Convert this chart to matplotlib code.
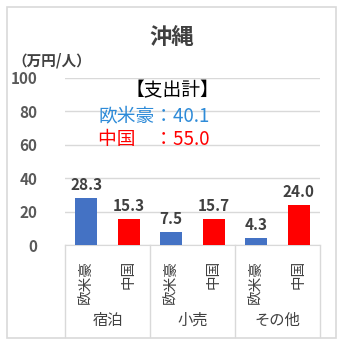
import matplotlib.pyplot as plt
from matplotlib.patches import Rectangle

plt.rcParams['font.family'] = ['Noto Sans CJK JP', 'DejaVu Sans']

groups = ['宿泊', '小売', 'その他']
markets = ['欧米豪', '中国']
values_west = [28.3, 7.5, 4.3]
values_china = [15.3, 15.7, 24.0]
totals = {'欧米豪': 40.1, '中国': 55.0}
yticks = [0, 20, 40, 60, 80, 100]

W, H = 344, 345
fig = plt.figure(figsize=(W / 100, H / 100), dpi=100)
ax = fig.add_axes([65 / W, 1 - 245 / H, 255 / W, 167 / H])

blue = '#4472C4'
red = '#FF0000'
txt = '#404040'

xs_w = [2 * i + 0.5 for i in range(len(groups))]
xs_c = [2 * i + 1.5 for i in range(len(groups))]
ax.bar(xs_w, values_west, width=0.52, color=blue, zorder=3)
ax.bar(xs_c, values_china, width=0.52, color=red, zorder=3)

for x, v in list(zip(xs_w, values_west)) + list(zip(xs_c, values_china)):
    ax.text(x, v + 3, f'{v:.1f}', ha='center', va='bottom', fontsize=11,
            fontweight='bold', color=txt)

ax.set_xlim(0, 2 * len(groups))
ax.set_ylim(0, 100)
ax.set_yticks(yticks)
ax.set_yticklabels([str(t) for t in yticks], fontsize=11, fontweight='bold',
                   color='#595959')
ax.tick_params(axis='y', length=0, pad=20)
ax.set_xticks([])
ax.grid(axis='y', color='#D9D9D9', linewidth=1, zorder=0)
for s in ['top', 'right', 'left']:
    ax.spines[s].set_visible(False)
ax.spines['bottom'].set_color('#D9D9D9')

# category axis: separators and labels
trans = ax.get_xaxis_transform()
for i in range(len(groups) + 1):
    ax.plot([2 * i, 2 * i], [0, -92 / 167], transform=trans, color='#D9D9D9',
            linewidth=1, clip_on=False)
for i, g in enumerate(groups):
    ax.text(2 * i + 1, -75 / 167, g, transform=trans, ha='center', va='center',
            fontsize=11, color=txt)
    for j, m in enumerate(markets):
        ax.text(2 * i + 0.5 + j, -15 / 167, m, transform=trans, ha='center',
                va='top', rotation=90, fontsize=10.5, color=txt)

fig.text(172 / W, 1 - 38 / H, '沖縄', ha='center', va='center', fontsize=16,
         fontweight='bold', color=txt)
fig.text(12 / W, 1 - 60 / H, '（万円/人）', ha='left', va='center', fontsize=10.5,
         fontweight='bold', color=txt)

fig.text(172 / W, 1 - 91 / H, '【支出計】', ha='center', va='center',
         fontsize=13.5, color='black')
fig.text(98 / W, 1 - 116 / H, f'欧米豪：{totals["欧米豪"]:.1f}', ha='left',
         va='center', fontsize=13.5, color='#2E8BD8')
fig.text(98 / W, 1 - 140 / H, f'中国\u3000：{totals["中国"]:.1f}', ha='left',
         va='center', fontsize=13.5, color=red)

fig.add_artist(Rectangle((7 / W, 7 / H), 329 / W, 331 / H, transform=fig.transFigure,
                         fill=False, edgecolor='#D9D9D9', linewidth=1.2))

fig.savefig('out.png', dpi=100)
